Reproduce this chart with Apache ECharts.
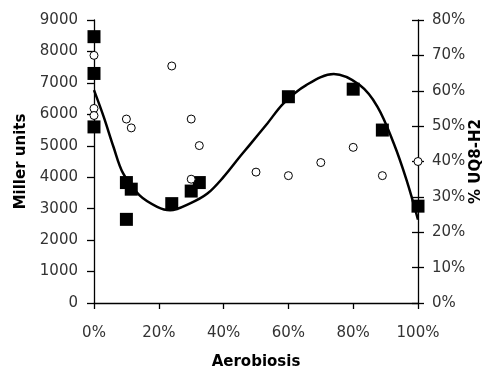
<!DOCTYPE html>
<html>
<head>
<meta charset="utf-8">
<script src="https://cdn.jsdelivr.net/npm/echarts@6/dist/echarts.min.js"></script>
<style>
  html, body { margin: 0; padding: 0; background: #fff; }
  #chart { width: 495px; height: 370px; }
</style>
</head>
<body>
<div id="chart"></div>
<script>
// filled squares: [aerobiosis %, Miller units]
var millerPoints = [[0, 8470], [0, 7300], [0, 5600], [10, 3830], [11.5, 3620], [10, 2660],
  [24, 3160], [30, 3560], [32.5, 3830], [60, 6560], [80, 6800], [89, 5500], [100, 3080]];

// open circles: [aerobiosis %, % UQ8-H2]
var uqPoints = [[0, 70], [0, 55], [0, 53], [10, 52], [11.5, 49.5], [24, 67], [30, 52],
  [32.5, 44.5], [30, 35], [50, 37], [60, 36], [70, 39.7], [80, 44], [89, 36], [100, 40]];

// trend line through the Miller units
var trendPoints = [[0, 6770], [3, 5920], [6, 4970], [9, 4120], [14, 3430], [19.5, 3060],
  [23.5, 2950], [29.5, 3160], [35, 3480], [40, 4010], [45, 4650], [48, 5020], [53.5, 5710],
  [58.5, 6350], [65.5, 6930], [74, 7280], [82, 6930], [87.5, 6240], [92.5, 5080],
  [96.5, 3900], [100, 2650]];

var font = 'DejaVu Sans';
var lineStyle = { color: '#000', width: 1.3 };

var chart = echarts.init(document.getElementById('chart'));
chart.setOption({
  animation: false,
  grid: { left: 94, right: 77, top: 20, bottom: 67, outerBoundsMode: 'none' },
  xAxis: {
    type: 'value', min: 0, max: 100, interval: 20,
    name: 'Aerobiosis', nameLocation: 'middle', nameGap: 52,
    nameTextStyle: { fontFamily: font, fontSize: 15, fontWeight: 'bold', color: '#000' },
    axisLine: { lineStyle: lineStyle },
    axisTick: { lineStyle: lineStyle, length: 6 },
    axisLabel: { formatter: '{value}%', fontFamily: font, fontSize: 15, color: '#333', margin: 23 },
    splitLine: { show: false }
  },
  yAxis: [
    {
      type: 'value', min: 0, max: 9000, interval: 1000, position: 'left',
      name: 'Miller units', nameLocation: 'middle', nameGap: 65,
      nameTextStyle: { fontFamily: font, fontSize: 15, fontWeight: 'bold', color: '#000' },
      axisLine: { show: true, lineStyle: lineStyle },
      axisTick: { show: true, lineStyle: lineStyle, length: 7 },
      axisLabel: {
        formatter: function (v) { return String(v); },
        fontFamily: font, fontSize: 15, color: '#333', margin: 16
      },
      splitLine: { show: false }
    },
    {
      type: 'value', min: 0, max: 80, interval: 10, position: 'right',
      name: '% UQ8-H2', nameLocation: 'middle', nameGap: 51, nameRotate: 90,
      nameMoveOverlap: false,
      nameTextStyle: { fontFamily: font, fontSize: 15, fontWeight: 'bold', color: '#000' },
      axisLine: { show: true, lineStyle: lineStyle },
      axisTick: { show: true, lineStyle: lineStyle, length: 6 },
      axisLabel: { formatter: '{value}%', fontFamily: font, fontSize: 15, color: '#333', margin: 14 },
      splitLine: { show: false }
    },
    {
      // inner half of the crossing ticks on the right axis
      type: 'value', min: 0, max: 80, interval: 10, position: 'right',
      axisLine: { show: false },
      axisTick: { show: true, inside: true, lineStyle: lineStyle, length: 6 },
      axisLabel: { show: false },
      splitLine: { show: false }
    }
  ],
  series: [
    {
      name: 'Miller units', type: 'scatter', yAxisIndex: 0,
      symbol: 'rect', symbolSize: 13,
      itemStyle: { color: '#000', opacity: 1 },
      data: millerPoints, z: 2
    },
    {
      name: 'trend', type: 'line', yAxisIndex: 0,
      smooth: 0.35, showSymbol: false,
      lineStyle: { color: '#000', width: 2.5 },
      data: trendPoints, z: 3
    },
    {
      name: '% UQ8-H2', type: 'scatter', yAxisIndex: 1,
      symbol: 'circle', symbolSize: 8,
      itemStyle: { color: '#fff', borderColor: '#000', borderWidth: 1, opacity: 1 },
      data: uqPoints, z: 4
    }
  ]
});
</script>
</body>
</html>
